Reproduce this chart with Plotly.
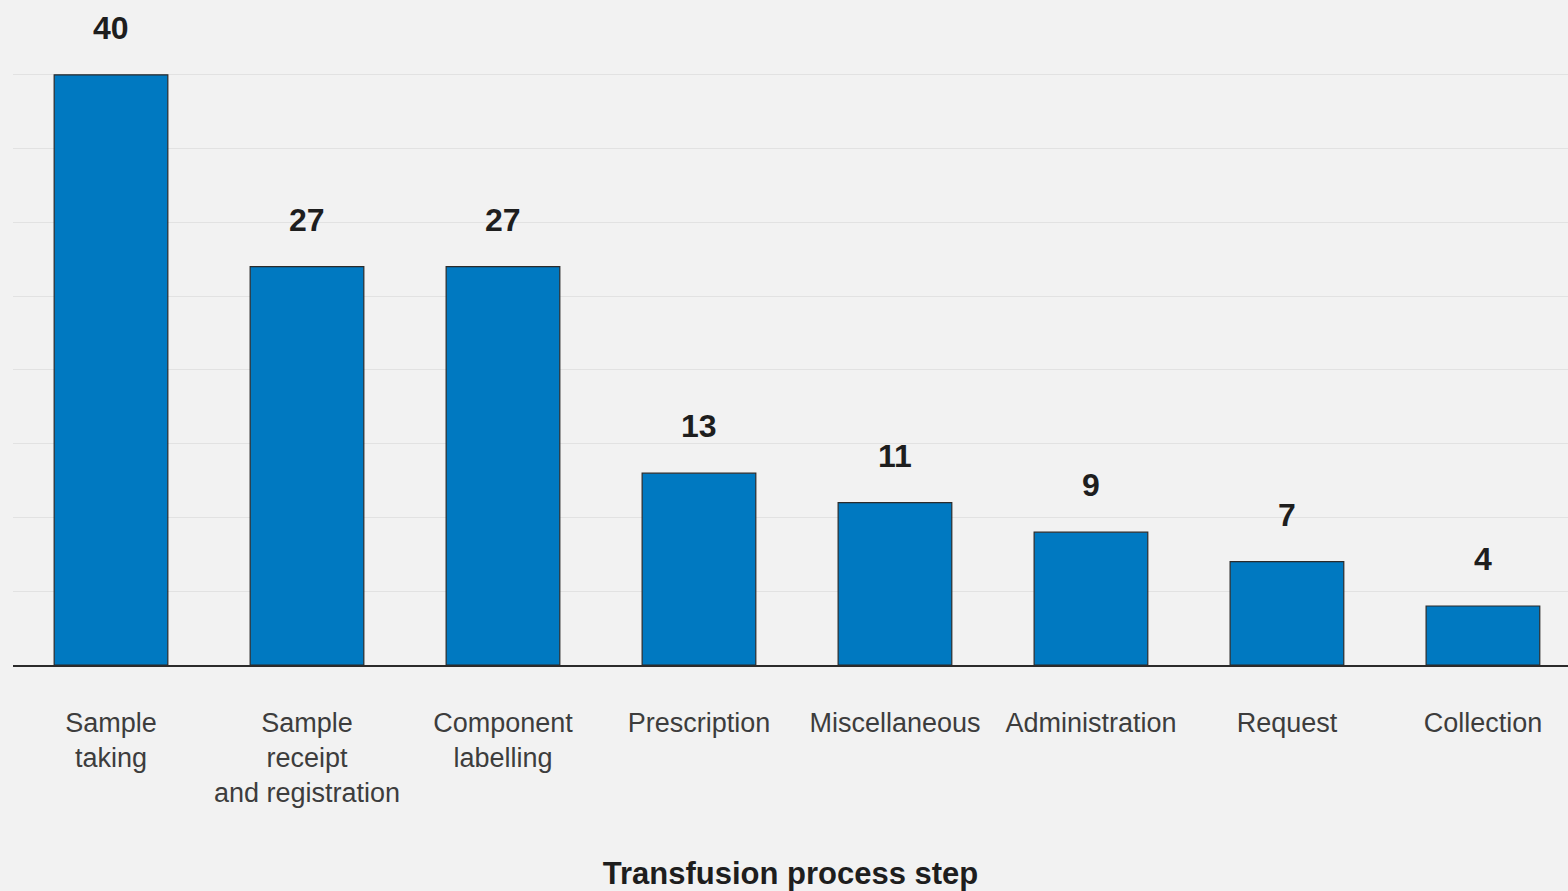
import plotly.graph_objects as go

categories = ["Sample<br>taking", "Sample<br>receipt<br>and registration", "Component<br>labelling",
              "Prescription", "Miscellaneous", "Administration", "Request", "Collection"]
values = [40, 27, 27, 13, 11, 9, 7, 4]
x_title = "Transfusion process step"

fig = go.Figure()
fig.add_trace(go.Bar(
    x=categories, y=values,
    marker=dict(color="#0079c1", line=dict(color="#2b2b2b", width=1.2)),
    width=0.58,
    hoverinfo="skip",
))

for c, v in zip(categories, values):
    fig.add_annotation(x=c, y=v, text=f"<b>{v}</b>", showarrow=False,
                       yanchor="middle", yshift=47,
                       font=dict(family="Liberation Sans, Arial", size=32, color="#1e1e1e"))

fig.update_layout(
    width=1568, height=891,
    margin=dict(l=13, r=0, t=1, b=226),
    paper_bgcolor="#f2f2f2", plot_bgcolor="#f2f2f2",
    showlegend=False,
    bargap=0.42,
)
fig.update_xaxes(
    range=[-0.5, 7.434],
    showline=True, linecolor="#2b2b2b", linewidth=1.5,
    ticks="outside", ticklen=33, tickcolor="rgba(0,0,0,0)",
    tickfont=dict(family="Liberation Sans, Arial", size=27, color="#3d3d3d"),
    title=dict(text=f"<b>{x_title}</b>", standoff=57,
               font=dict(family="Liberation Sans, Arial", size=31, color="#1e1e1e")),
    showgrid=False,
)
fig.update_yaxes(
    range=[0, 45], dtick=5, showticklabels=False,
    showgrid=True, gridcolor="#e2e2e2", gridwidth=1.2,
    zeroline=False,
)

fig.write_html("out.html", config={"displayModeBar": False},
               post_script="document.body.style.margin='0';document.body.style.background='#f2f2f2';")
